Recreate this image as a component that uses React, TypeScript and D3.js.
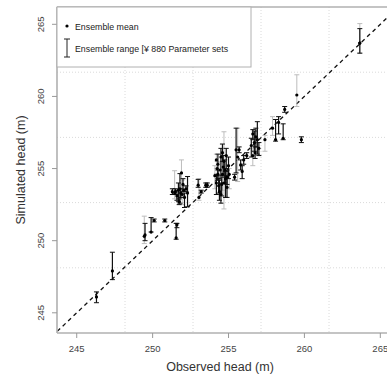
import * as d3 from "d3";
import {useEffect, useRef} from "react";

// observed head (m) per well
const observed = [
    246.3, 247.35, 249.45, 249.5, 249.9, 250.1, 250.8, 251.55, 251.6,
    251.3, 251.45, 251.6, 251.7, 251.8, 251.9, 251.95, 252.0, 252.1, 252.3, 252.2, 251.75,
    251.85, 252.05, 251.5,
    253.0, 253.05, 253.2, 253.5, 253.6,
    254.1, 254.2, 254.3, 254.4, 254.5, 254.5, 254.6, 254.7, 254.7, 254.75, 254.8, 254.85,
    254.9, 255.0, 255.05, 254.3, 254.2, 254.6,
    254.35, 254.45, 254.65, 254.9, 254.55, 254.25,
    255.4, 255.5, 255.6, 255.7, 255.8, 255.9, 256.0, 256.2,
    256.5, 256.6, 256.7, 256.8, 256.9, 257.0, 256.6, 257.4, 256.75,
    257.9, 258.1, 258.3, 258.6, 258.7, 259.5, 259.8, 263.65, 263.65,
]
// ensemble mean of simulated head
const simMean = [
    246.1, 247.9, 250.3, 250.4, 250.6, 251.4, 251.4, 250.2, 251.1,
    253.4, 253.3, 253.1, 253.5, 253.6, 254.7, 253.2, 253.9, 253.0, 253.3, 253.6, 252.7,
    253.3, 253.5, 253.4,
    253.85, 253.0, 253.4, 253.85, 253.85,
    254.5, 254.0, 255.3, 253.4, 253.2, 255.8, 254.6, 254.0, 255.5, 254.9, 254.3, 255.9,
    253.7, 255.2, 254.6, 254.6, 255.6, 256.1,
    253.8, 254.9, 255.1, 254.4, 253.9, 255.0,
    254.4, 256.3, 255.8, 256.3, 255.25, 254.8, 255.6, 255.9,
    256.6, 255.9, 256.8, 257.2, 257.0, 256.4, 257.4, 257.0, 256.1,
    257.8, 257.0, 258.2, 257.1, 259.1, 260.1, 257.0, 263.7, 263.7,
]
// ensemble range (min / max)
const simMin = [
    245.7, 247.3, 249.8, 250.0, 250.6, 251.3, 251.3, 250.1, 250.9,
    253.2, 252.9, 252.8, 252.7, 252.6, 253.0, 252.5, 253.4, 252.3, 252.35, 253.4, 252.5,
    253.0, 253.1, 253.2,
    253.7, 252.8, 253.3, 253.7, 253.7,
    253.6, 253.2, 254.3, 252.8, 252.6, 254.5, 253.5, 252.2, 254.2, 254.0, 253.0, 255.0,
    253.0, 254.3, 253.6, 254.2, 255.0, 255.5,
    253.3, 254.2, 254.5, 253.9, 253.1, 254.6,
    254.2, 254.7, 254.1, 256.1, 254.9, 254.3, 255.3, 255.7,
    255.8, 255.2, 256.2, 256.5, 256.0, 255.9, 257.0, 256.2, 255.7,
    257.3, 256.9, 257.4, 257.0, 258.9, 259.3, 256.8, 263.0, 263.0,
]
const simMax = [
    246.45, 249.2, 251.7, 251.2, 251.6, 251.5, 251.5, 251.2, 251.2,
    253.6, 254.85, 253.5, 254.0, 254.65, 255.6, 254.2, 254.3, 253.3, 254.45, 253.8, 252.9,
    253.6, 253.8, 253.6,
    254.25, 254.3, 253.5, 254.0, 254.0,
    255.2, 254.6, 256.0, 254.2, 254.0, 256.4, 255.5, 254.5, 257.55, 255.6, 254.8, 256.4,
    254.5, 255.8, 255.0, 254.9, 256.0, 256.7,
    254.3, 255.4, 255.9, 254.9, 254.4, 255.5,
    254.6, 257.8, 257.8, 256.5, 255.6, 255.2, 255.9, 256.1,
    257.1, 256.4, 257.6, 257.8, 258.25, 256.8, 257.7, 257.3, 256.5,
    258.6, 258.4, 258.6, 258.1, 259.3, 261.5, 257.2, 265.05, 264.7,
]
// k = dark bar, g = light bar
const barTone = [
    "k", "k", "g", "k", "k", "k", "k", "k", "k",
    "k", "g", "k", "k", "k", "g", "g", "k", "k", "k", "k", "k",
    "k", "g", "k",
    "k", "g", "k", "k", "k",
    "g", "k", "k", "k", "k", "k", "g", "g", "g", "k", "k", "k",
    "k", "k", "g", "k", "g", "k",
    "k", "g", "k", "k", "k", "g",
    "k", "k", "g", "k", "k", "k", "k", "k",
    "k", "g", "k", "k", "k", "k", "k", "g", "k",
    "g", "k", "k", "k", "k", "g", "k", "g", "k",
]

const xTicks = [245, 250, 255, 260, 265]
const yTicks = [245, 250, 255, 260, 265]
const legendLabels = ["Ensemble mean", "Ensemble range [¥ 880 Parameter sets"]

const W = 387, H = 375
const plot = {left: 57, right: 397, top: 7, bottom: 333}
const font = "'Liberation Sans', Arial, sans-serif"

const App = () => {
    const svgRef = useRef(null)

    useEffect(() => {
        const svg = d3.select(svgRef.current)
        svg.selectAll("*").remove()

        const x = d3.scaleLinear([243.7, 266.1], [plot.left, plot.right])
        const y = d3.scaleLinear([243.6, 266.2], [plot.bottom, plot.top])

        svg.append("clipPath").attr("id", "clip")
            .append("rect")
            .attr("x", plot.left).attr("y", plot.top)
            .attr("width", plot.right - plot.left).attr("height", plot.bottom - plot.top)

        // сетка делит область на 5 частей
        const [x0, x1] = x.domain()
        const [y0, y1] = y.domain()
        const gx = d3.range(1, 5).map(i => x0 + i * (x1 - x0) / 5)
        const gy = d3.range(1, 5).map(i => y0 + i * (y1 - y0) / 5)
        const grid = svg.append("g").attr("stroke", "#dadada").attr("stroke-dasharray", "1,2")
        grid.selectAll(".gx").data(gx).join("line")
            .attr("x1", d => x(d)).attr("x2", d => x(d))
            .attr("y1", plot.top).attr("y2", plot.bottom)
        grid.selectAll(".gy").data(gy).join("line")
            .attr("y1", d => y(d)).attr("y2", d => y(d))
            .attr("x1", plot.left).attr("x2", plot.right)

        // линия 1:1
        svg.append("line")
            .attr("clip-path", "url(#clip)")
            .attr("x1", x(243)).attr("y1", y(243))
            .attr("x2", x(267)).attr("y2", y(267))
            .attr("stroke", "#111").attr("stroke-width", 1.3)
            .attr("stroke-dasharray", "4,3.5")

        const idx = d3.range(observed.length)
        const order = idx.slice().sort((a, b) => (barTone[a] === "g" ? 0 : 1) - (barTone[b] === "g" ? 0 : 1))

        const bars = svg.append("g")
        order.forEach(i => {
            const col = barTone[i] === "g" ? "#bdbdbd" : "#111"
            const cx = x(observed[i])
            bars.append("line")
                .attr("x1", cx).attr("x2", cx)
                .attr("y1", y(simMin[i])).attr("y2", y(simMax[i]))
                .attr("stroke", col).attr("stroke-width", barTone[i] === "g" ? 1 : 1.2)
            ;[simMin[i], simMax[i]].forEach(v => {
                bars.append("line")
                    .attr("x1", cx - 2.5).attr("x2", cx + 2.5)
                    .attr("y1", y(v)).attr("y2", y(v))
                    .attr("stroke", col).attr("stroke-width", 1)
            })
        })

        svg.append("g").selectAll("circle").data(idx).join("circle")
            .attr("cx", i => x(observed[i])).attr("cy", i => y(simMean[i]))
            .attr("r", 1.6).attr("fill", "#000")

        // рамка и оси
        const frame = svg.append("g").attr("stroke", "#b0b0b0").attr("stroke-width", 1.6).attr("fill", "none")
        frame.append("line").attr("x1", plot.left).attr("x2", plot.right).attr("y1", plot.top).attr("y2", plot.top)
        frame.append("line").attr("x1", plot.left).attr("x2", plot.left).attr("y1", plot.top).attr("y2", plot.bottom)
        frame.append("line").attr("x1", plot.left).attr("x2", plot.right).attr("y1", plot.bottom).attr("y2", plot.bottom)

        const xt = svg.append("g")
        xTicks.forEach(t => {
            xt.append("line").attr("x1", x(t)).attr("x2", x(t))
                .attr("y1", plot.bottom).attr("y2", plot.bottom + 5)
                .attr("stroke", "#999").attr("stroke-width", 1)
            xt.append("text").attr("x", x(t)).attr("y", plot.bottom + 19)
                .attr("text-anchor", "middle").attr("font-size", 9.5)
                .attr("font-family", font).attr("fill", "#444").text(t)
        })
        const yt = svg.append("g")
        yTicks.forEach(t => {
            yt.append("line").attr("x1", plot.left - 5).attr("x2", plot.left)
                .attr("y1", y(t)).attr("y2", y(t))
                .attr("stroke", "#999").attr("stroke-width", 1)
            yt.append("text")
                .attr("transform", `translate(${plot.left - 13},${y(t)}) rotate(-90)`)
                .attr("text-anchor", "middle").attr("font-size", 9.5)
                .attr("font-family", font).attr("fill", "#444").text(t)
        })

        svg.append("text").attr("x", 220).attr("y", 371)
            .attr("text-anchor", "middle").attr("font-size", 12.5)
            .attr("font-family", font).attr("fill", "#333").text("Observed head (m)")
        svg.append("text")
            .attr("transform", `translate(25,${(plot.top + plot.bottom) / 2}) rotate(-90)`)
            .attr("text-anchor", "middle").attr("font-size", 12.5)
            .attr("font-family", font).attr("fill", "#333").text("Simulated head (m)")

        // легенда
        const lg = svg.append("g")
        lg.append("rect").attr("x", plot.left).attr("y", plot.top)
            .attr("width", 194).attr("height", 60)
            .attr("fill", "#fff").attr("stroke", "#b0b0b0").attr("stroke-width", 1)
        lg.append("circle").attr("cx", 67).attr("cy", 26).attr("r", 1.6).attr("fill", "#000")
        lg.append("line").attr("x1", 67).attr("x2", 67).attr("y1", 39).attr("y2", 57)
            .attr("stroke", "#222").attr("stroke-width", 1)
        ;[39, 57].forEach(v => lg.append("line").attr("x1", 64).attr("x2", 70)
            .attr("y1", v).attr("y2", v).attr("stroke", "#222").attr("stroke-width", 1))
        lg.selectAll("text.lab").data(legendLabels).join("text")
            .attr("x", 75).attr("y", (d, i) => i === 0 ? 29.5 : 51.5)
            .attr("font-size", 8.8).attr("font-family", font).attr("fill", "#222")
            .text(d => d)
    }, [])

    return <svg ref={svgRef} width={W} height={H}
                style={{position: "absolute", left: 0, top: 0, background: "#fff"}}/>
}

export default App
